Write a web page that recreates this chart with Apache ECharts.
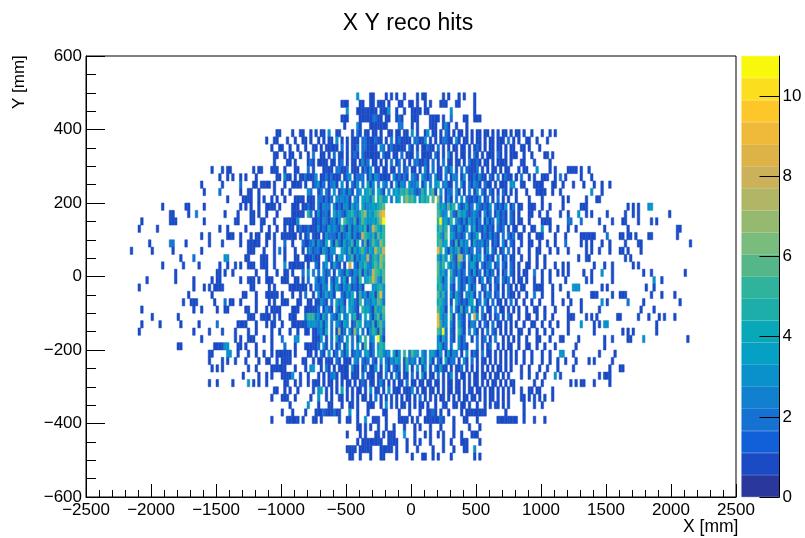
<!DOCTYPE html>
<html><head><meta charset="utf-8">
<script src="https://cdn.jsdelivr.net/npm/echarts@6/dist/echarts.min.js"></script>
<style>html,body{margin:0;padding:0;background:#fff}#c{width:805px;height:538px}</style>
</head><body><div id="c"></div>
<script>
// Hit counts. Each row is "startBin:counts" runs; '.' = empty, a=10, b=11.
const binSize = 20, xOrigin = -2500, topRowY = 480;
const rowsTop = [
"104:3 109:11 115:1 117:1 119:1 122:1 127:1 129:11 137:1 139:1 143:1 145:1 149:1",
"98:111 105:11 109:11 112:111 116:1 120:11 124:11 127:1 130:1 132:1 136:11 138:1 142:11 149:1",
"100:3 104:11111111 113:111 116:3 119:1 122:1 125:1111 130:11 140:3 149:1",
"98:111 105:111 108:112211 115:11 119:121 125:111 132:1111 137:1 140:2 145:11 149:111",
"99:1 104:3 105:1 109:111111 115:1 120:22 125:1 127:1 132:111 137:131 142:1 146:1",
"73:11 79:1 82:11 86:1 88:1 90:11.3..11....1.21.11.11.1..11.11.11.3.1..13.11.1.21.1.11.1.1.11.11.1.1.11.1 165:11 168:1 171:1 175:1 178:1 180:1",
"69:1 72:11 77:1 80:1 83:11 86:1 89:1 90:.1.11.3.1.1.111.22111211.1.2.121111.22113.1.1.12211.31.11.1.11.1.11.111.2.1 166:1 169:11 173:1 177:1",
"71:1 74:11 78:1 81:1 84:1 87:11 90:1.11111.2.1.112.221111.32.1211111.21.1.11211.2.1.1.11.11.1.121.1.11.11.1.1 164:1 167:11 170:1 174:1",
"72:11 76:1 78:11 82:1 85:1 87:2 90:11.1.2.11.1.121.2111111.211.11.2.111.2.1111.21.1.31.1.11.1.21.1.111.21.1.1 164:11 168:1 171:1 176:11 179:1",
"72:1 77:11 80:1 85:121 89:1 90:111.11.12.1.11.1312.11.1.1.2.12.1.1.221121.2.1.2.11.11.1.21121.11.1.1111.1 167:11 172:1 178:1",
"48:1 52:1 54:11 64:1 66:11 71:111 76:1 80:11 85:2 87:1 90:.1111.22112.111.1213.11.11.11.2.12.11.1.31.2.11.313.1.2.21112.1.1.11.1.11. 166:1 168:11 173:3 178:1 180:1 185:1 186:111 190:1 193:1",
"51:1 54:1 56:1 59:1 61:1 65:1 73:11 76:311 80:1 82:112111 88:3 90:11212111.123.1222.131321111.312121.321.3212.311.2.132.13.1121311.21.2.1211.1. 165:1 167:2 170:1 172:1 175:111 180:1 182:2 184:1 190:1 194:1",
"44:1 52:1 59:2 64:11 67:1111 72:1 76:1 79:1111 84:1 87:123 90:12.1231.3.1.213.2.413.2.32.1.3132.3223.13.2.34.2311.2.31.21321.211.1.111.3 164:3 167:11 172:1111 179:11 183:1 187:1 191:1 195:1 198:1 201:1",
"45:1 51:2 59:1 62:11 66:1 72:1 75:1 78:1 85:32 89:1 90:2.21.3.123131.23.3452.431.3.3435463421253.461.3.122.31.1.2.13.21.21.1.21.1 165:1 169:1 173:111 176:1 179:1 182:1 194:3 198:1",
"54:1 60:1111 66:1 68:1 71:1 73:1 76:1 80:1111 85:111 89:2 90:21212.323231.32.43425.4634.2.34.57564.3545.6.72.131.2.3.211213.12.1.2.1.1. 165:1 170:1 175:1 183:1 185:1 192:1 196:11"
];
const rowsBeside = [
"29:1 38:11 45:1 59:1 61:1 63:1 66:1 69:1111 74:1 79:111 83:11211 89:21322.3121331423.423343456 135:5342635.312412.321213.21213.12 166:11 170:111 175:1 178:1 183:1 190:111 208:1 210:1 212:1 216:33",
"32:11 39:1 42:2 53:1 58:1 63:11 66:1 69:1 73:1 79:1111 83:1 85:5 86:2 88:1 89:31221.42321345324673435689 135:6423.521534212321.312.13121.21 166:1 170:11 174:1 177:1 182:1 185:1 189:3 192:1 194:1 200:1 207:1 210:1 212:1 224:1",
"21:1 32:11 34:1 45:1 57:11 63:11 67:11 72:1 76:11111 81:3 87:111 89:213212313.643251364334357b 135:5b3425.3213142312.1312.3121.21 166:11 170:1 175:1111 185:22 190:2 197:1 202:1 206:11 212:1 217:1 219:1",
"20:1 27:1 51:1 54:1 61:1 67:1 70:1 73:1 76:1 78:11 81:12112111 89:31214232152141324351386435 135:4635.3214213.241213121.212.1.1 165:1 168:1 171:11 175:3 178:1 181:1 185:1 188:1 199:1 208:1 227:11",
"44:1 47:1 54:111 59:1 63:1 65:11 69:11 72:1 75:111111 82:1 84:12 87:11 89:1.132221312341312854352645 135:5426.431212.3124.1213121.2.212 166:11 170:1 173:111 180:1 184:1 190:1 191:11111 200:2 205:11 208:11 211:1 216:11 227:1",
"24:1 32:22 38:1 47:1 52:1 59:1 62:11111 69:1 72:1 76:2 79:1 83:211231 89:3214.31521423514.261364375 135:5634.2151423.1422312.121.31.21 167:1 170:11 174:1 177:1 180:1 184:2 190:1 192:1 194:1 198:1 201:1 207:1 212:11 232:1",
"17:1 25:1 33:1 44:1 62:111 68:1 72:1 74:2 76:1 80:1 83:1 85:2312 89:2142133..43251424632438558 135:95.31423512312.22.13.21.12.2.1 166:1 170:1 173:11 178:1 181:1 185:1 192:1 194:1 197:1 201:1 205:11 208:1 213:1",
"36:1 41:2 53:33 61:11 67:111 72:1 76:1 80:11 84:11 86:121 89:1..312.143.235132438245376 135:4253.521772.31423.2121.3.12.11 167:1 170:1 173:1 176:1 189:1 192:11 207:1 209:1",
"29:1 37:1 43:1 51:1 54:1 57:1 59:1 62:111 67:111 72:1 76:3 78:111111 85:1 88:2 89:1.23.1421.1.8.214353246475 135:635.4231521.2431.2123.12.21.21 166:1 169:11 173:1 176:1 180:1 183:1 185:1 195:1 199:1 202:1 210:1 212:1",
"34:1 50:11 53:1 56:1 65:1 69:1 73:1 76:11 79:1 83:2 85:3 87:2 89:2.312.1.321421325142386546 135:6342.521312.21412.1312.1.12.21 166:1 168:11 172:2 175:1 178:1 181:1 183:1 185:1 191:1 194:1 198:3 202:1 214:1 217:1 230:1",
"23:1 34:1 41:1 48:1 50:11 59:1 62:111 66:1 69:111 75:111 80:11 83:1 85:2 88:3 89:1231.213.241.2315.34586326 135:5413.42.3121321.13.12.12.212.1 166:11 169:1 172:1 175:1 178:1 184:1 192:1 194:1 202:1 218:3 221:1",
"20:1 41:1 45:1 47:1 49:1111 63:11 70:1 72:1 78:1111111 86:1 88:2 89:2132.3142132412131...33453 135:4523.21.312.312..12.1.21.1.21. 165:1 167:11 172:111 175:1 179:1 182:1 187:333 198:1 200:1 215:1 218:1",
"39:1 48:1 60:11 65:1 69:11111 75:1 79:1 82:1 84:2 87:1 89:3124231..21324.15231341593 135:6352.31421.3241.2.132.12.1.211 166:1 169:1 172:2 175:1 179:1 185:1 194:111 202:1 205:111 217:1 221:1 226:1",
"37:1 40:111 49:1 53:2 55:11 59:1 65:1 70:1 72:1 75:111 81:11 85:11 88:1 89:1321.2.4231.34215.23243652 135:4532.1.4212134.12.31.2.11.1.2. 165:1 168:1 171:1 174:1 179:1 183:1 186:1 190:1 198:3 200:1 208:2 214:1 228:1",
"21:1 41:1 44:1 50:1 53:11 61:11 65:1 69:1 71:111 74:1 79:111 84:111 87:11 89:2.1321.3142.4321.534215346 135:6431.3.21513.241.2.11.2.11.1.1 166:1 169:1 172:11 176:1 180:1 185:1 190:1 197:1 213:1 218:1",
"25:1 35:1 62:111 67:1111 72:1 74:1 78:111 84:25552 89:3142.3214.23.3512.4.314625 135:9423.51.321.2.83.21.1.12.1.21. 166:1 169:11 173:1 176:1 179:1 185:111 192:1 194:1 196:1 204:11 212:1 216:1 220:1 222:1 226:1",
"21:1 28:1 36:1 43:1 50:2 58:1111 65:1 69:1 71:11 75:1 79:111111 85:3333 89:2413.2.32143.1254.23251463 135:9523.31.421.132.1.21.2.11.1.1. 165:1 168:1 171:11 175:1 178:1 181:1 185:1 190:3 195:1 197:1 199:33 219:1",
"20:1 41:1 47:1 52:1 57:1 62:1 65:1 71:1 74:1 78:1 81:1 84:11 87:11 89:2314.2.1712.3173.2.1354162 135:64b2.21.531.2.31.1.2.21.1.1.1. 166:11 170:1 173:1 176:1 179:1 185:1 195:1 206:1 208:1 210:1 219:1",
"44:1 57:1 59:1 62:111 68:1 71:1 75:2 80:33 87:11 89:13.1.2.412.3.2.14.5.23.b41 135:3142.21.312..1.2.12.1.2..1.1.1 166:1 169:1 173:11 178:1 182:11 189:1 199:1 202:1 208:11 214:3 231:1",
"35:11 49:1111 53:33 58:11 61:1 65:1 71:1 76:2 80:1 84:1111 88:1 89:2.31.2.12.14.2.3.15.12.354 135:3412.2..3121...2.1.12..1.1.11. 166:1 169:11 173:1 176:1 180:1 188:1 199:1"
];
const rowsBottom = [
"47:11 54:33 58:1 62:1 65:1 68:1 71:1 73:111111 80:1 85:11 88:1 90:21.3.12.313.1232.3412.45323.413.5.2643.32.34213.14132.1.3.121.2.11.1.1.1.1 165:1 168:1 171:1 175:1 178:1 182:33 187:1 197:1 203:1",
"47:1 52:1 54:1 57:1 61:1 66:1 69:11 73:1 75:1111 83:11 87:1 89:1 90:1.111.21.111.32.212.21.3.213243.15232.142.31.21.4122.1.31.2.1.11.1.1.1.1.1 165:1 168:1 171:1 175:1 178:1 181:1 184:1 188:1 193:1 195:1 202:1",
"48:1 50:1 52:1 62:1 65:1 71:111 74:11 76:1 80:1 84:1 86:33 90:1.21.1.1111.311.12.113.1.31.212.14.1.3.13.1.21411.1.112.1.1.1.1.1.1.11.1.1 167:1 170:1 174:1 177:1 181:1 187:1 201:1 205:11",
"60:1 66:1 69:1 71:1 75:1 76:111 79:3 82:1 85:1 89:1 90:.1.1231.111.111.2.111.11.2.1.31.11.2.1.31.11.2.1.13.1.11.1.11.11.1.11.1.1. 167:1 170:1 173:1 176:1 180:3 182:1 197:1 199:111",
"47:1 50:1 56:1 62:3 64:1 66:1 69:1 76:11 80:1 82:1 85:1 87:111 90:.1.11.1.1.11.1.121.11.131.1.1.11.2.11.11.11.11.1.11.11.1.1.11.1.1.11.1.1.11. 172:1 175:1 186:1 188:1 190:11 195:1 201:1",
"72:11 76:1 78:1 81:1 87:1 89:3 90:4.1.1.1.4.1.1.11.1.3.11.1.3.111.1113.1.11.11.1.1.11.11.1.11.11.1.11.1.1.1.1 167:1 170:11 173:11 179:1",
"71:1 75:111 80:1 86:1 89:3 90:..1.1..11.1.1.1.11.1.2.1.1.1.1.1.11.1.2.1.1.1.11.1.1.1.11.11.1.1.11.1.1.1 167:11 170:1 172:1 174:1 176:1 179:1",
"78:1 85:3 89:1 90:...11...1..11.1...111..1.3.1.1.11.1.1.11.1..1..11..11.11.1..1..1.1.11.1.1. 168:1 172:1 175:1",
"75:1 79:1 84:1 88:1112111211 101:3 104:1 108:1 114:11 120:1 124:1 128:1 131:1121 136:1 139:1 144:1 146:1111111 153:1 161:1 168:1",
"71:1 77:11111 83:1 87:11 90:1 97:1 100:11 104:1 107:3 110:111 115:1 120:1111 125:1 127:1 130:1111112 137:1 141:1 145:11 150:1 158:11111111 168:1 172:1 176:1",
"104:11 107:1 109:1 112:1 115:1 118:1 122:1 126:1 128:1 132:1 136:1 141:1 147:1 151:1",
"100:1 105:1 107:1 111:11 114:1 116:111 122:3 126:1 130:1 132:1 135:1 137:1 141:1 144:1 148:111",
"104:1 106:11111 111:111 116:1111 123:1 126:1 128:1 132:1 137:1 140:1 144:111 151:1",
"100:1111 105:11111 113:111 116:11 119:1 123:1 127:1 133:1 137:1 141:1 145:11 149:3",
"101:11 105:1 109:1 113:11 119:1 125:1 129:11 133:1 135:1 140:1 149:1 151:1"
];
const xTicks = {min:-2500, max:2500, step:500};
const yTicks = {min:-600, max:600, step:200};
const zMax = 11, zStep = 0.55;
const palette = ["#2a389e","#1a4bc4","#1260d9","#1572d3","#1080cf","#0a90cb","#05a0c4","#08a8b8","#1eaeaa","#2fb39c","#55b68a","#7abb7e","#95b96f","#b0b665","#cbb25a","#ddb348","#efb93a","#fdc72a","#fbdf1e","#f8f80c"];

const allRows = rowsTop.concat(rowsBeside, rowsBottom);
const cells = [];
allRows.forEach((row, r) => {
  const y = topRowY - r * binSize;
  row.split(" ").forEach(tok => {
    const [s, digits] = tok.split(":");
    [...digits].forEach((c, j) => {
      const v = parseInt(c, 16);
      if (!isNaN(v)) cells.push([xOrigin + (Number(s) + j) * binSize, y, v]);
    });
  });
});
const font = "'Liberation Sans', Helvetica, Arial, sans-serif";
const minus = v => String(v).replace("-", "\u2212");
const line = {show:true, onZero:false, lineStyle:{color:"#000", width:1}};
const tickStyle = {color:"#000", width:1};
const barSeries = palette.map(c => ({
  type:"bar", xAxisIndex:1, yAxisIndex:1, stack:"z", data:[zStep], barWidth:"100%",
  itemStyle:{color:c, borderColor:c, borderWidth:0.6}, silent:true, animation:false
}));
const chart = echarts.init(document.getElementById("c"), null, {renderer:"canvas"});
chart.setOption({
  animation:false,
  backgroundColor:"#fff",
  title:{text:"X Y reco hits", left:403, top:7, textAlign:"center",
    textStyle:{fontFamily:font, fontSize:23, fontWeight:"normal", color:"#000"}},
  grid:[
    {left:86, top:56, width:650, height:441, show:true, borderColor:"#000", borderWidth:1, backgroundColor:"transparent"},
    {left:741.5, top:56, width:38, height:441}
  ],
  xAxis:[
    {type:"value", gridIndex:0, min:xTicks.min, max:xTicks.max, interval:xTicks.step, position:"bottom",
     axisLine:line, splitLine:{show:false},
     axisTick:{show:true, inside:true, length:13, lineStyle:tickStyle},
     minorTick:{show:true, splitNumber:5, length:7, lineStyle:tickStyle},
     axisLabel:{color:"#000", fontFamily:font, fontSize:17, margin:5, formatter:minus, hideOverlap:false, showMinLabel:true, showMaxLabel:true}},
    {type:"category", gridIndex:1, data:["z"], show:false}
  ],
  yAxis:[
    {type:"value", gridIndex:0, min:yTicks.min, max:yTicks.max, interval:yTicks.step, position:"left",
     axisLine:line, splitLine:{show:false},
     axisTick:{show:true, inside:true, length:19, lineStyle:tickStyle},
     minorTick:{show:true, splitNumber:4, length:10, lineStyle:tickStyle},
     axisLabel:{color:"#000", fontFamily:font, fontSize:17, margin:4, formatter:minus, hideOverlap:false, showMinLabel:true, showMaxLabel:true}},
    {type:"value", gridIndex:1, min:0, max:zMax, interval:2, position:"right",
     axisLine:{show:true, lineStyle:{color:"#000", width:1}}, splitLine:{show:false},
     axisTick:{show:true, inside:true, length:20, lineStyle:tickStyle},
     axisLabel:{color:"#000", fontFamily:font, fontSize:17, margin:3, showMaxLabel:false}, z:10}
  ],
  series:[{
    type:"custom", coordinateSystem:"cartesian2d", xAxisIndex:0, yAxisIndex:0, data:cells, silent:true,
    encode:{x:0, y:1},
    renderItem:(p, api) => {
      const a = api.coord([api.value(0), api.value(1) + binSize]);
      const b = api.coord([api.value(0) + binSize, api.value(1)]);
      const lvl = Math.min(palette.length - 1, Math.floor(api.value(2) / zStep));
      return {type:"rect", shape:{x:a[0], y:a[1], width:b[0]-a[0], height:b[1]-a[1]},
              style:{fill:palette[lvl], stroke:palette[lvl], lineWidth:0.5}};
    }
  }].concat(barSeries),
  graphic:[
    {type:"text", left:683, top:518, style:{text:"X [mm]", fontFamily:font, fontSize:17.5, fill:"#000"}},
    {type:"text", x:11, y:109, rotation:Math.PI/2, style:{text:"Y [mm]", fontFamily:font, fontSize:17, fill:"#000"}}
  ]
});
</script></body></html>
